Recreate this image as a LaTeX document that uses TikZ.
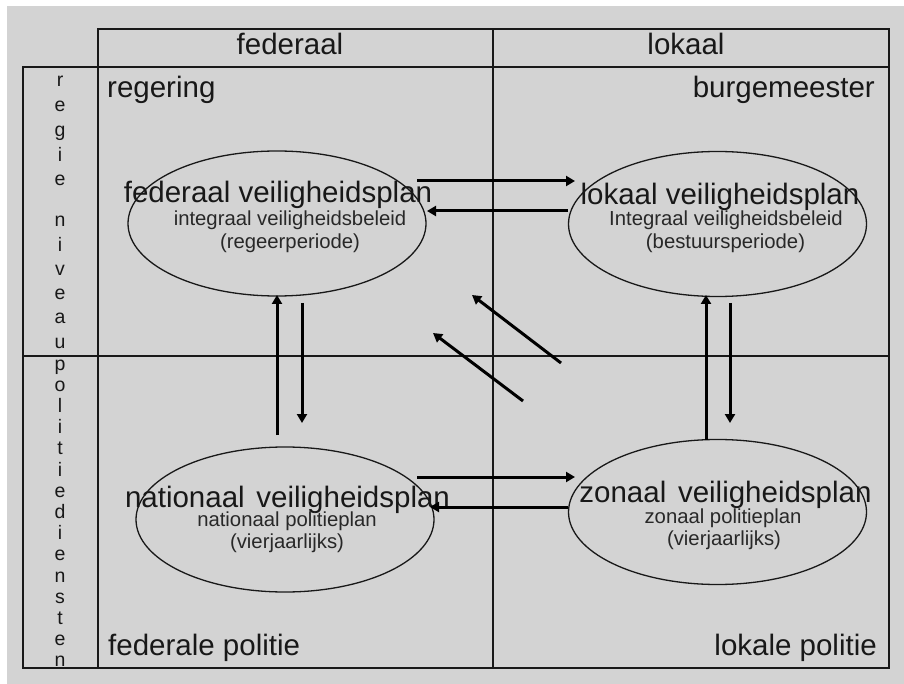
\documentclass[tikz,border=0pt]{standalone}
\usepackage{fontspec}
\setmainfont{Liberation Sans}
\usetikzlibrary{arrows.meta,shapes.geometric}

\definecolor{paper}{RGB}{211,211,211}
\definecolor{ink}{RGB}{24,24,24}
\definecolor{softink}{RGB}{40,40,40}

\begin{document}
\begin{tikzpicture}[x=1pt,y=-1pt,
  rule/.style={draw=ink,line width=1.6pt},
  plan/.style={draw=ink,ellipse,line width=1.3pt,minimum width=298pt,minimum height=145pt,inner sep=0pt},
  flow/.style={draw=black,line width=3pt,-{Triangle[length=9pt,width=10pt]}},
  big/.style={font=\fontsize{29.5}{34}\selectfont,text=ink,inner sep=0pt},
  small/.style={font=\fontsize{20.3}{24}\selectfont,text=softink,inner sep=0pt,anchor=base},
  letter/.style={font=\fontsize{19.5}{22}\selectfont,text=ink,inner sep=0pt,anchor=base},
]
% canvas
\useasboundingbox (0,0) rectangle (904,684);
\fill[white] (0,0) rectangle (904,684);
\fill[paper] (7,6) rectangle (904,684);

% table rules
\draw[rule] (98,29) rectangle (889,67);
\draw[rule] (23,67) rectangle (889,668);
\draw[rule] (98,67) -- (98,668);
\draw[rule] (493,29) -- (493,668);
\draw[rule] (23,356) -- (889,356);

% column and corner labels
\node[big,anchor=base] (colF) at (290,55) {federaal};
\node[big,anchor=base] (colL) at (686,55) {lokaal};
\node[big,anchor=base west] (cornerA) at (107,98) {regering};
\node[big,anchor=base east] (cornerB) at (875,98) {burgemeester};
\node[big,anchor=base west] (cornerC) at (108,655) {federale politie};
\node[big,anchor=base east] (cornerD) at (877,655) {lokale politie};

% vertical row labels, one letter per line
\foreach \c/\yy [count=\k] in {r/87,e/112,g/137,i/162,e/186,n/227,i/251.2,v/275.4,e/299.6,a/323.8,u/348}
  \node[letter] (up\k) at (60,\yy) {\c};
\foreach \c [count=\k from 0] in {p,o,l,i,t,i,e,d,i,e,n,s,t,e,n}
  \node[letter] (lo\k) at (60,{370+21.2*\k}) {\c};

% the four plans
\node[plan] (fe) at (277,223.5) {};
\node[plan] (le) at (717.5,224) {};
\node[plan] (ne) at (285,519.5) {};
\node[plan] (ze) at (717.5,512) {};

\node[big,anchor=base] (feT) at (278,203) {federaal veiligheidsplan};
\node[small] (feA) at (290,226) {integraal veiligheidsbeleid};
\node[small] (feB) at (290,249) {(regeerperiode)};

\node[big,anchor=base] (leT) at (720,205) {lokaal veiligheidsplan};
\node[small] (leA) at (726,226) {Integraal veiligheidsbeleid};
\node[small] (leB) at (725.5,249) {(bestuursperiode)};

\node[big,anchor=base] (neT) at (287.5,507) {nationaal\hspace{0.12em} veiligheidsplan};
\node[small] (neA) at (287,526) {nationaal politieplan};
\node[small] (neB) at (287,548) {(vierjaarlijks)};

\node[big,anchor=base] (zeT) at (725.5,502) {zonaal\hspace{0.12em} veiligheidsplan};
\node[small] (zeA) at (723,523) {zonaal politieplan};
\node[small] (zeB) at (724,545) {(vierjaarlijks)};

% horizontal exchanges
\draw[flow] ([shift={(140,-42.5)}]fe.center) -- ([shift={(-142.5,-43)}]le.center);
\draw[flow] ([shift={(-149.5,-13)}]le.center) -- ([shift={(150,-12.5)}]fe.center);
\draw[flow] ([shift={(132,-42.5)}]ne.center) -- ([shift={(-142.5,-35)}]ze.center);
\draw[flow] ([shift={(-149.5,-5)}]ze.center) -- ([shift={(145,-12.5)}]ne.center);

% vertical exchanges
\draw[flow] ([shift={(-8,-84.5)}]ne.center) -- ([shift={(0,71.5)}]fe.center);
\draw[flow] ([shift={(25,79.5)}]fe.center) -- ([shift={(17,-96.5)}]ne.center);
\draw[flow] ([shift={(-11.5,-72)}]ze.center) -- ([shift={(-11.5,71)}]le.center);
\draw[flow] ([shift={(12.5,79)}]le.center) -- ([shift={(12.5,-89)}]ze.center);

% diagonal exchanges
\draw[flow] ([shift={(-156.5,-149)}]ze.center) -- ([shift={(195,71.5)}]fe.center);
\draw[flow] ([shift={(-194.5,-111)}]ze.center) -- ([shift={(156,109.5)}]fe.center);
\end{tikzpicture}
\end{document}
